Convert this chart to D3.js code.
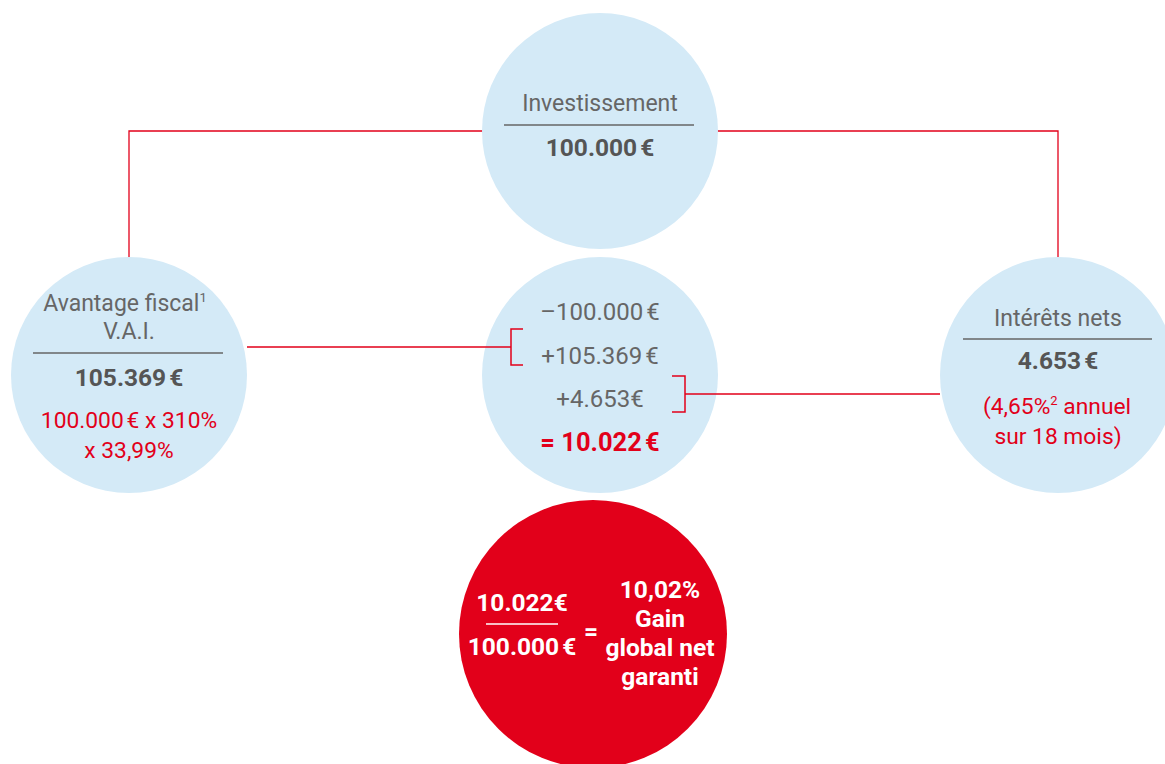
<!DOCTYPE html>
<html>
<head>
<meta charset="utf-8">
<script src="https://cdn.jsdelivr.net/npm/d3@7"></script>
<style>
  body { margin: 0; background: #fff; }
  svg { display: block; font-family: Roboto, "Liberation Sans", sans-serif; }
</style>
</head>
<body>
<div id="diagram"></div>
<script>
// values shown in the diagram
var investment = 100000;
var taxBenefit = 105369;
var netInterest = 4653;
var netGain = 10022;
var taxFormula = ["100.000\u202F€ x 310%", "x 33,99%"];
var interestNote = ["(4,65%", "2", " annuel", "sur 18 mois)"];
var calcLines = ["\u2013100.000\u202F€", "+105.369\u202F€", "+4.653€", "= 10.022\u202F€"];
var gainLabel = ["10,02%", "Gain", "global net", "garanti"];

var fmt = v => d3.format(",")(v).replace(/,/g, ".");

var W = 1165, H = 764;
var blue = "#d4eaf7", red = "#e2001a", grey = "#666", dark = "#555";

var svg = d3.select("#diagram").append("svg")
  .attr("width", W)
  .attr("height", H);

// column / row scales for the circle layout
var col = d3.scaleOrdinal().domain(["left", "mid", "right"]).range([129, 600, 1058]);
var row = d3.scaleOrdinal().domain(["top", "middle", "bottom"]).range([131, 375, 634]);
var R = 118;

// connector lines
var lines = svg.append("g")
  .attr("fill", "none")
  .attr("stroke", red)
  .attr("stroke-width", 1.3);
lines.append("path")
  .attr("d", `M${col("left")},${row("middle") - R} V${row("top")} H${col("right")} V${row("middle") - R}`);

// circles
var circles = [
  {c: "mid", r: "top", fill: blue, rad: R},
  {c: "left", r: "middle", fill: blue, rad: R},
  {c: "mid", r: "middle", fill: blue, rad: R},
  {c: "right", r: "middle", fill: blue, rad: R},
  {c: "mid", r: "bottom", fill: red, rad: 134}
];
svg.selectAll(".node")
  .data(circles)
  .enter().append("circle")
    .attr("class", "node")
    .attr("cx", d => d.c == "mid" && d.r == "bottom" ? col(d.c) - 7 : col(d.c))
    .attr("cy", d => row(d.r))
    .attr("r", d => d.rad)
    .attr("fill", d => d.fill);

// brackets in the middle circle
var br = svg.append("g")
  .attr("fill", "none")
  .attr("stroke", red)
  .attr("stroke-width", 1.5);
br.append("path")
  .attr("d", `M${col("left") + R},347 H511 M523,329 H511 V365 H523`);
br.append("path")
  .attr("d", `M${col("right") - R},394 H685 M672,376 H685 V412 H672`);

function text(g, x, y, s, o) {
  o = o || {};
  return g.append("text")
    .attr("x", x)
    .attr("y", y)
    .attr("text-anchor", o.anchor || "middle")
    .attr("font-size", o.size || 23)
    .attr("font-weight", o.weight || 400)
    .attr("fill", o.fill || grey)
    .text(s);
}
function rule(g, x1, x2, y, c) {
  g.append("line")
    .attr("x1", x1).attr("x2", x2)
    .attr("y1", y).attr("y2", y)
    .attr("stroke", c || "#666")
    .attr("stroke-width", 1.5);
}

var labels = svg.append("g");

// top : investissement
text(labels, col("mid"), 111, "Investissement");
rule(labels, 504, 694, 125);
text(labels, col("mid"), 156, fmt(investment) + "\u202F€", {weight: 700, fill: dark, size: 24.5});

// left : avantage fiscal
var t = text(labels, 125, 311, "Avantage fiscal");
t.append("tspan").attr("font-size", 13).attr("dy", -9).text("1");
text(labels, col("left"), 339, "V.A.I.");
rule(labels, 33, 223, 353);
text(labels, col("left"), 386, fmt(taxBenefit) + "\u202F€", {weight: 700, fill: dark, size: 24.5});
taxFormula.forEach((s, i) => text(labels, col("left"), 428 + i * 30, s, {size: 22.8, fill: red}));

// middle : calculation
calcLines.forEach((s, i) => text(labels, col("mid"), 320 + i * 43.5, s,
  i == 3 ? {weight: 700, fill: red, size: 25.5} : {size: 24}));

// right : interets nets
text(labels, col("right"), 326, "Int\u00e9r\u00eats nets");
rule(labels, 963, 1152, 339);
text(labels, col("right"), 369, fmt(netInterest) + "\u202F€", {weight: 700, fill: dark, size: 24.5});
var n = text(labels, col("right") - 1, 414, interestNote[0], {size: 22.8, fill: red});
n.append("tspan").attr("font-size", 13).attr("dy", -9).text(interestNote[1]);
n.append("tspan").attr("dy", 9).text(interestNote[2]);
text(labels, col("right"), 444, interestNote[3], {size: 22.8, fill: red});

// bottom : result
var res = svg.append("g");
var w = {weight: 700, fill: "#fff", size: 24.5};
text(res, 522, 611, fmt(netGain) + "€", w);
rule(res, 486, 558, 624, "#fff");
text(res, 522, 655, fmt(investment) + "\u202F€", w);
text(res, 591, 640, "=", w);
gainLabel.forEach((s, i) => text(res, 660, 598 + i * 29, s, w));
</script>
</body>
</html>
